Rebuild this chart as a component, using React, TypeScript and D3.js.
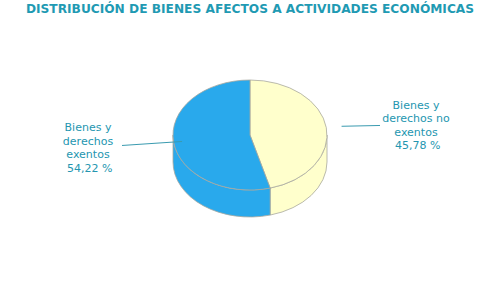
import React from "react";
import * as d3 from "d3";

const title = "DISTRIBUCIÓN DE BIENES AFECTOS A ACTIVIDADES ECONÓMICAS";
const categories = ["Bienes y derechos no exentos", "Bienes y derechos exentos"];
const values = [45.78, 54.22];
const labelLines = [
  ["Bienes y", "derechos no", "exentos", " 45,78 %"],
  ["Bienes y", "derechos", "exentos", " 54,22 %"],
];
const colors = ["#FFFFCC", "#29A9EC"];

const W = 500, H = 300;
const cx = 250, cy = 135, rx = 77, ry = 55, depth = 27;
const textColor = "#2496b0";
const strokeColor = "#a8a8a0";

function pt(a: number, k = 1, dy = 0): [number, number] {
  return [cx + rx * k * Math.sin(a), cy - ry * k * Math.cos(a) + dy];
}

export default function App() {
  const pie = d3.pie<number>().sort(null).startAngle(0).endAngle(2 * Math.PI);
  const arcs = pie(values);

  const topPath = (a0: number, a1: number) => {
    const [x0, y0] = pt(a0);
    const [x1, y1] = pt(a1);
    const large = a1 - a0 > Math.PI ? 1 : 0;
    return `M${cx},${cy} L${x0},${y0} A${rx},${ry} 0 ${large} 1 ${x1},${y1} Z`;
  };
  const sidePath = (a0: number, a1: number) => {
    const s = Math.max(a0, Math.PI / 2);
    const e = Math.min(a1, (3 * Math.PI) / 2);
    if (e <= s) return null;
    const [x0, y0] = pt(s);
    const [x1, y1] = pt(e);
    return `M${x0},${y0} A${rx},${ry} 0 0 1 ${x1},${y1} L${x1},${y1 + depth} A${rx},${ry} 0 0 0 ${x0},${y0 + depth} Z`;
  };

  // label placement
  const labelPos = [
    { x: 416, y: 108.5, k0: 1.2, lx: 380 },
    { x: 88, y: 131, k0: 0.89, lx: 122 },
  ];

  return (
    <svg width={W} height={H} style={{ position: "absolute", left: 0, top: 0, background: "#fff" }}>
      <text x={250} y={13} textAnchor="middle" fontFamily="DejaVu Sans, Verdana, sans-serif" fontWeight="bold" fontSize={12.2} fill="#1f9ab3">
        {title}
      </text>
      {arcs.map((a, i) => {
        const d = sidePath(a.startAngle, a.endAngle);
        return d ? <path key={"s" + i} d={d} fill={colors[i]} stroke={strokeColor} strokeWidth={0.8} /> : null;
      })}
      {arcs.map((a, i) => (
        <path key={"t" + i} d={topPath(a.startAngle, a.endAngle)} fill={colors[i]} stroke={strokeColor} strokeWidth={0.8} />
      ))}
      {arcs.map((a, i) => {
        const mid = (a.startAngle + a.endAngle) / 2;
        const lp = labelPos[i];
        const [px, py] = pt(mid, lp.k0);
        const ly = i === 0 ? py - 0.8 : py + 4;
        return (
          <g key={"l" + i}>
            <line x1={px} y1={py} x2={lp.lx} y2={ly} stroke="#3a9bb0" strokeWidth={1} />
            <text fontFamily="DejaVu Sans, Verdana, sans-serif" fontSize={11} fill={textColor} textAnchor="middle">
              {labelLines[i].map((t, j) => (
                <tspan key={j} x={lp.x} y={lp.y + j * 13.5} style={{ whiteSpace: "pre" }}>{t}</tspan>
              ))}
            </text>
          </g>
        );
      })}
      <title>{categories.join(", ")}</title>
    </svg>
  );
}
